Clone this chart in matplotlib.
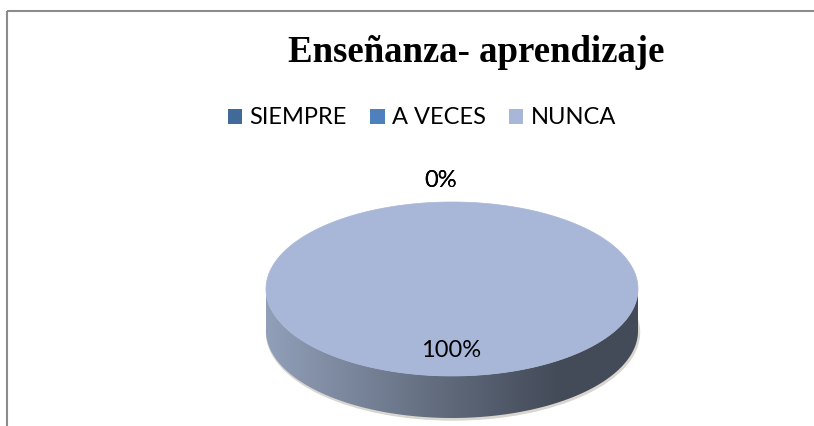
#!/usr/bin/env python3

import numpy as np
import matplotlib
matplotlib.use('Agg')
import matplotlib.pyplot as plt
from matplotlib.patches import Polygon, Patch, Rectangle, Ellipse
from matplotlib.colors import LinearSegmentedColormap

# Data
title = 'Enseñanza- aprendizaje'
categories = ['SIEMPRE', 'A VECES', 'NUNCA']
values = [0, 0, 100]
colors = ['#416a9b', '#4e80bd', '#a8b7d8']

# Layout (pixels)
W, H = 814, 426
cx, cy = 452, 289
rx, ry = 186, 87
depth = 42

label_font = ['Lato', 'DejaVu Sans']
title_font = ['Liberation Serif']

# side wall shading, light on the left to dark on the right
side_cmap = LinearSegmentedColormap.from_list(
    'side', [(0.0, '#919fb9'), (0.5, '#5e6879'), (0.78, '#444b59'),
             (1.0, '#434a58')])

fig = plt.figure(figsize=(W / 100, H / 100), dpi=100)
ax = fig.add_axes([0, 0, 1, 1])
ax.set_xlim(0, W)
ax.set_ylim(H, 0)
ax.axis('off')

# chart frame (cut off at right/bottom)
ax.add_patch(Rectangle((7, 11), W, H, fill=False, edgecolor='#8c8c8c', lw=1.5))

total = float(sum(values))
fracs = [v / total for v in values]
starts = np.cumsum([0] + fracs[:-1]) * 2 * np.pi
ends = starts + np.array(fracs) * 2 * np.pi


def pt(t, dy=0):
    # t measured clockwise from 12 o'clock
    return cx + rx * np.sin(t), cy - ry * np.cos(t) + dy


# faint shadow under the pie
ax.add_patch(Ellipse((cx + 1, cy + depth + 1.5), 2 * rx + 1, 2 * ry + 1,
                     color='#d9d6d0', zorder=0))

# side wall (front half only), shaded with a gradient image
grad = np.linspace(0, 1, 512).reshape(1, -1)
for s, e, col in zip(starts, ends, colors):
    a, b = max(s, np.pi / 2), min(e, 3 * np.pi / 2)
    if b <= a:
        continue
    ts = np.linspace(a, b, 300)
    xs, ys = pt(ts)
    xb, yb = pt(ts[::-1], depth)
    side = Polygon(list(zip(xs, ys)) + list(zip(xb, yb)), closed=True,
                   facecolor='none', edgecolor='none')
    ax.add_patch(side)
    im = ax.imshow(grad, cmap=side_cmap, aspect='auto', zorder=2,
                   extent=(cx - rx, cx + rx, cy + ry + depth, cy - ry),
                   interpolation='bilinear')
    im.set_clip_path(side)

# top face
for s, e, col in zip(starts, ends, colors):
    if e <= s:
        continue
    ts = np.linspace(s, e, 400)
    xs, ys = pt(ts)
    verts = list(zip(xs, ys))
    if e - s < 2 * np.pi - 1e-9:
        verts = [(cx, cy)] + verts
    ax.add_patch(Polygon(verts, closed=True, facecolor=col, edgecolor=col,
                         lw=0.5, zorder=3))

ax.set_xlim(0, W)
ax.set_ylim(H, 0)

# data labels (empty slices sit outside, a little to the left)
for s, e, v in zip(starts, ends, fracs):
    tm = (s + e) / 2
    k = 0.71 if v > 0 else 1.25
    dx = -1 if v > 0 else -11
    x, y = cx + k * rx * np.sin(tm), cy - k * ry * np.cos(tm)
    ax.text(x + dx, y, f'{v * 100:.0f}%', ha='center', va='center',
            fontsize=17, family=label_font, color='black', zorder=5)

ax.text(476, 52, title, ha='center', va='center', fontsize=26.5,
        fontweight='bold', family=title_font)

handles = [Patch(facecolor=c, edgecolor='none', label=n)
           for n, c in zip(categories, colors)]
fig.legend(handles=handles, loc='center', bbox_to_anchor=(422 / W, 1 - 118 / H),
           ncol=3, frameon=False, prop={'family': label_font, 'size': 17},
           handlelength=0.6, handleheight=0.6, handletextpad=0.3,
           columnspacing=1.0)

fig.savefig('out.png', dpi=100)
